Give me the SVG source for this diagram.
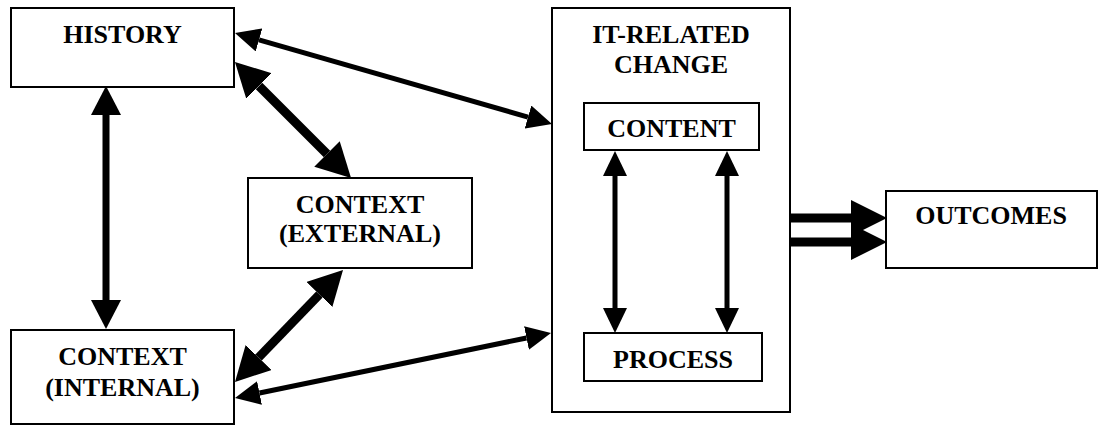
<svg xmlns="http://www.w3.org/2000/svg" width="1098" height="426" viewBox="0 0 1098 426">
<style>
.box{fill:#fff;stroke:#000;stroke-width:2}
.lbl{font-family:"Liberation Serif","Times New Roman",serif;font-weight:bold;font-size:26px;fill:#000;text-anchor:middle}
.c{stroke:#000;fill:none}
.s{stroke-width:5}
.m{stroke-width:7}
.t{stroke-width:9}
</style>
<defs>
<marker id="ahS" markerUnits="userSpaceOnUse" markerWidth="26" markerHeight="24" refX="0" refY="12" orient="auto-start-reverse"><path d="M0,0 L25,12 L0,24 Z" fill="#000"/></marker>
<marker id="ahM" markerUnits="userSpaceOnUse" markerWidth="30" markerHeight="30" refX="0" refY="15" orient="auto-start-reverse"><path d="M0,0 L29,15 L0,30 Z" fill="#000"/></marker>
<marker id="ahL" markerUnits="userSpaceOnUse" markerWidth="35" markerHeight="36" refX="0" refY="18" orient="auto-start-reverse"><path d="M0,0 L34,18 L0,36 Z" fill="#000"/></marker>
<marker id="ahO" markerUnits="userSpaceOnUse" markerWidth="37" markerHeight="36" refX="0" refY="18" orient="auto"><path d="M0,0 L36,18 L0,36 Z" fill="#000"/></marker>
</defs>
<g id="it-change">
<rect class="box" x="552" y="8" width="238" height="404"/>
<text class="lbl" x="671" y="43">IT-RELATED</text>
<text class="lbl" x="671" y="73">CHANGE</text>
</g>
<g id="history">
<rect class="box" x="11" y="8" width="223" height="79"/>
<text class="lbl" x="122.5" y="43">HISTORY</text>
</g>
<g id="context-external">
<rect class="box" x="248" y="178" width="224" height="90"/>
<text class="lbl" x="360" y="213">CONTEXT</text>
<text class="lbl" x="360" y="242">(EXTERNAL)</text>
</g>
<g id="context-internal">
<rect class="box" x="11" y="330" width="223" height="94"/>
<text class="lbl" x="122.5" y="365">CONTEXT</text>
<text class="lbl" x="122.5" y="396">(INTERNAL)</text>
</g>
<g id="content">
<rect class="box" x="584" y="103" width="175" height="47"/>
<text class="lbl" x="671.5" y="137">CONTENT</text>
</g>
<g id="process">
<rect class="box" x="584" y="333" width="178" height="48"/>
<text class="lbl" x="673" y="368">PROCESS</text>
</g>
<g id="outcomes">
<rect class="box" x="886" y="191" width="211" height="77"/>
<text class="lbl" x="991" y="224">OUTCOMES</text>
</g>
<g id="connectors">
<line class="c s" x1="259" y1="39.9" x2="528" y2="117.1" marker-start="url(#ahS)" marker-end="url(#ahS)"/>
<line class="c t" x1="259" y1="86" x2="327" y2="154" marker-start="url(#ahL)" marker-end="url(#ahL)"/>
<line class="c t" x1="319.4" y1="294.5" x2="258.6" y2="357.5" marker-start="url(#ahL)" marker-end="url(#ahL)"/>
<line class="c s" x1="259.5" y1="393" x2="526.5" y2="338" marker-start="url(#ahS)" marker-end="url(#ahS)"/>
<line class="c m" x1="106" y1="115" x2="106" y2="300" marker-start="url(#ahM)" marker-end="url(#ahM)"/>
<line class="c s" x1="615" y1="176" x2="615" y2="308" marker-start="url(#ahS)" marker-end="url(#ahS)"/>
<line class="c s" x1="727" y1="176" x2="727" y2="308" marker-start="url(#ahS)" marker-end="url(#ahS)"/>
<line class="c t" x1="791" y1="218" x2="851" y2="218" marker-end="url(#ahO)"/>
<line class="c t" x1="791" y1="242" x2="851" y2="242" marker-end="url(#ahO)"/>
</g>
</svg>
